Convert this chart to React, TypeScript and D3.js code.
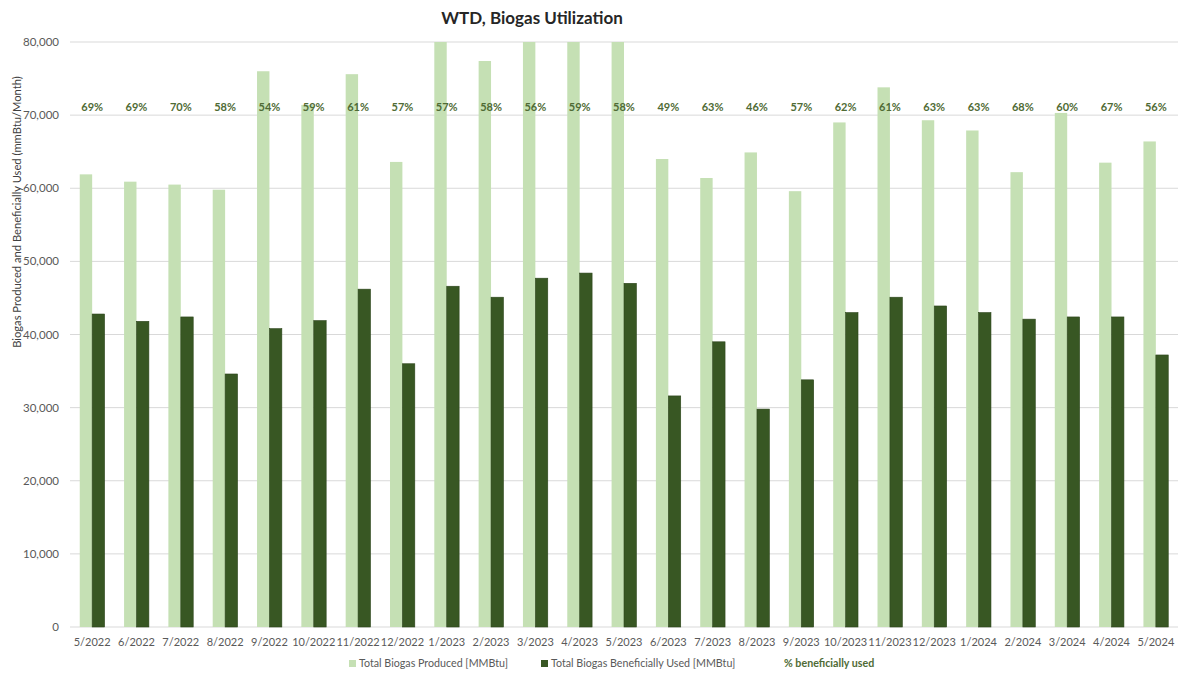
import { useEffect, useRef } from 'react'
import * as d3 from 'd3'

const months = [
	'5/2022', '6/2022', '7/2022', '8/2022', '9/2022', '10/2022', '11/2022', '12/2022',
	'1/2023', '2/2023', '3/2023', '4/2023', '5/2023', '6/2023', '7/2023', '8/2023',
	'9/2023', '10/2023', '11/2023', '12/2023', '1/2024', '2/2024', '3/2024', '4/2024', '5/2024',
]

const produced = [
	61900, 60900, 60500, 59800, 76000, 71400, 75600, 63600,
	81800, 77400, 85200, 82000, 81000, 64000, 61400, 64900,
	59600, 69000, 73800, 69300, 67900, 62200, 70300, 63500, 66400,
]

const used = [
	42800, 41800, 42400, 34600, 40800, 41900, 46200, 36000,
	46600, 45100, 47700, 48400, 47000, 31600, 39000, 29800,
	33800, 43000, 45100, 43900, 43000, 42100, 42400, 42400, 37200,
]

const pctUsed = [
	69, 69, 70, 58, 54, 59, 61, 57, 57, 58, 56, 59, 58, 49, 63, 46,
	57, 62, 61, 63, 63, 68, 60, 67, 56,
]

const yTicks = [0, 10000, 20000, 30000, 40000, 50000, 60000, 70000, 80000]

const W = 1178
const H = 677
const margin = { top: 42, right: 0, bottom: 50, left: 70 }
const LIGHT = '#c5e0b4'
const DARK = '#385723'
const PCT = '#4f6b35'
const TXT = '#595959'
const FONT = 'Lato, "Open Sans", sans-serif'

export default function App() {
	const ref = useRef<SVGSVGElement>(null)

	useEffect(() => {
		const svg = d3.select(ref.current)
		svg.selectAll('*').remove()

		const x = d3
			.scaleBand()
			.domain(months)
			.range([margin.left, W - margin.right])
			.padding(0)
		const y = d3
			.scaleLinear()
			.domain([0, 80000])
			.range([H - margin.bottom, margin.top])
		const barW = x.step() * 0.28
		const cx = (m: string) => (x(m) as number) + x.bandwidth() / 2
		// bars taller than the axis max are clipped at 80,000
		const yc = (v: number) => y(Math.min(v, 80000))

		// gridlines
		svg
			.append('g')
			.selectAll('line')
			.data(yTicks)
			.enter()
			.append('line')
			.attr('x1', margin.left)
			.attr('x2', W - margin.right)
			.attr('y1', (d) => y(d))
			.attr('y2', (d) => y(d))
			.attr('stroke', '#d9d9d9')
			.attr('stroke-width', 1)

		// y tick labels
		svg
			.append('g')
			.selectAll('text')
			.data(yTicks)
			.enter()
			.append('text')
			.attr('x', 59)
			.attr('y', (d) => y(d))
			.attr('dy', '0.35em')
			.attr('text-anchor', 'end')
			.style('font', `11.5px ${FONT}`)
			.attr('fill', TXT)
			.text((d) => d3.format(',')(d))

		// produced bars
		svg
			.append('g')
			.selectAll('rect')
			.data(produced)
			.enter()
			.append('rect')
			.attr('x', (_d, i) => cx(months[i]) - barW)
			.attr('y', (d) => yc(d))
			.attr('width', barW)
			.attr('height', (d) => y(0) - yc(d))
			.attr('fill', LIGHT)

		// used bars
		svg
			.append('g')
			.selectAll('rect')
			.data(used)
			.enter()
			.append('rect')
			.attr('x', (_d, i) => cx(months[i]))
			.attr('y', (d) => yc(d))
			.attr('width', barW)
			.attr('height', (d) => y(0) - yc(d))
			.attr('fill', DARK)
			.attr('stroke', '#2c451b')
			.attr('stroke-width', 0.6)

		// percent labels
		svg
			.append('g')
			.selectAll('text')
			.data(pctUsed)
			.enter()
			.append('text')
			.attr('x', (_d, i) => cx(months[i]))
			.attr('y', y(71100))
			.attr('dy', '0.35em')
			.attr('text-anchor', 'middle')
			.style('font', `bold 11px ${FONT}`)
			.attr('fill', PCT)
			.text((d) => d + '%')

		// x axis labels
		svg
			.append('g')
			.selectAll('text')
			.data(months)
			.enter()
			.append('text')
			.attr('x', (d) => cx(d))
			.attr('y', y(0) + 19)
			.attr('text-anchor', 'middle')
			.style('font', `11px ${FONT}`)
			.attr('fill', TXT)
			.text((d) => d)

		// title
		svg
			.append('text')
			.attr('x', 532)
			.attr('y', 24)
			.attr('text-anchor', 'middle')
			.style('font', `bold 17px ${FONT}`)
			.attr('fill', '#262626')
			.text('WTD, Biogas Utilization')

		// y axis title
		svg
			.append('text')
			.attr('transform', 'translate(21,212) rotate(-90)')
			.attr('text-anchor', 'middle')
			.style('font', `11.2px ${FONT}`)
			.attr('fill', '#404040')
			.text('Biogas Produced and Beneficially Used (mmBtu/Month)')

		// legend
		const legend = svg.append('g').attr('transform', 'translate(0,667)')
		legend.append('rect').attr('x', 349).attr('y', -7).attr('width', 7).attr('height', 7).attr('fill', LIGHT)
		legend
			.append('text')
			.attr('x', 359)
			.attr('y', 0)
			.style('font', `10.7px ${FONT}`)
			.attr('fill', TXT)
			.text('Total Biogas Produced [MMBtu]')
		legend.append('rect').attr('x', 541).attr('y', -7).attr('width', 7).attr('height', 7).attr('fill', DARK)
		legend
			.append('text')
			.attr('x', 551)
			.attr('y', 0)
			.style('font', `10.7px ${FONT}`)
			.attr('fill', TXT)
			.text('Total Biogas Beneficially Used [MMBtu]')
		legend
			.append('text')
			.attr('x', 784)
			.attr('y', 0)
			.style('font', `bold 10.7px ${FONT}`)
			.attr('fill', PCT)
			.text('% beneficially used')
	}, [])

	return (
		<svg
			ref={ref}
			width={W}
			height={H}
			style={{ position: 'absolute', left: 0, top: 0, background: '#fff' }}
		/>
	)
}
